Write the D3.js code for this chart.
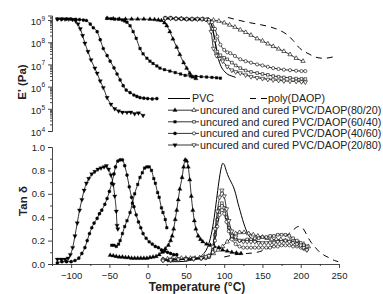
<!doctype html>
<html>
<head>
<meta charset="utf-8">
<script src="https://d3js.org/d3.v7.min.js"></script>
<style>
  body { margin: 0; background: #fff; }
  svg { font-family: "Liberation Sans", Arial, sans-serif; }
</style>
</head>
<body>
<svg id="svg1" width="383" height="294"></svg>
<script>
// ---- data: [temperature degC, value] ----
// storage modulus E' (Pa)
const eU8020 = [[-53,1.2e9],[-45,1.15e9],[-37,1.1e9],[-29,1.1e9],[-21,1.1e9],[-13,1.1e9],[-5,1.1e9],[3,1.08e9],[9,1.05e9],[14,1.0e9],[18,9.5e8],[22,7.5e8],[25,5.5e8],[29,3e8],[33,1.4e8],[38,6e7],[42,2.8e7],[47,1.2e7],[51,6.8e6],[55,4e6],[59,2.7e6],[63,2.3e6]];
const eU6040 = [[-53,1.2e9],[-48,1.15e9],[-43,1.1e9],[-38,1.1e9],[-33,1.0e9],[-30,9e8],[-27,7.9e8],[-23,5.5e8],[-19,3e8],[-15,1.5e8],[-10,5.2e7],[-6,3e7],[-1,1.9e7],[3,1.4e7],[7,1.1e7],[12,8.5e6],[16,6.8e6],[22,5.8e6],[29,5.0e6],[36,4.3e6],[43,3.7e6],[49,3.2e6],[56,3.0e6],[63,2.9e6],[70,2.8e6],[77,2.7e6],[84,2.6e6],[90,2.5e6],[95,2.4e6]];
const eU4060 = [[-118,1.1e9],[-112,1.1e9],[-106,1.1e9],[-100,1.1e9],[-94,1.08e9],[-89,1.05e9],[-84,1.0e9],[-80,9.5e8],[-75,6.6e8],[-71,4.5e8],[-66,3e8],[-62,1.3e8],[-58,5.2e7],[-53,2.5e7],[-49,1.4e7],[-44,7e6],[-40,3.7e6],[-36,2e6],[-32,1.1e6],[-28,7e5],[-23,5.4e5],[-18,4.2e5],[-14,3.6e5],[-10,3.2e5],[-5,3e5],[0,2.9e5],[6,2.8e5],[12,2.9e5]];
const eU2080 = [[-118,1.1e9],[-113,1.1e9],[-108,1.1e9],[-103,1.1e9],[-98,1.05e9],[-94,9e8],[-91,6.6e8],[-88,4e8],[-85,2e8],[-82,9e7],[-78,3.8e7],[-74,1.6e7],[-69,6.8e6],[-66,4e6],[-62,1.8e6],[-58,9e5],[-53,3.2e5],[-48,1.6e5],[-43,1.0e5],[-38,8e4],[-33,7e4],[-27,6.9e4],[-22,7e4],[-17,6e4],[-12,6.5e4],[-6,5e4]];
const eC8020 = [[23,1.2e9],[30,1.2e9],[37,1.15e9],[44,1.15e9],[51,1.1e9],[58,1.1e9],[65,1.1e9],[72,1.1e9],[79,1.05e9],[86,1.0e9],[93,9e8],[100,7.5e8],[107,6e8],[114,4.8e8],[121,3.6e8],[128,2.8e8],[135,2.1e8],[143,1.45e8],[150,1.15e8],[157,8.5e7],[164,6.5e7],[171,5e7],[178,3.9e7],[186,2.8e7],[194,1.9e7],[203,1.4e7]];
const eC6040 = [[23,1.2e9],[30,1.2e9],[37,1.15e9],[44,1.15e9],[51,1.1e9],[58,1.1e9],[65,1.1e9],[72,1.1e9],[78,1.05e9],[82,8e8],[85,4e8],[88,1.2e8],[91,3.8e7],[95,2.6e7],[100,2.0e7],[104,1.7e7],[110,1.2e7],[115,9e6],[121,6.8e6],[128,5.3e6],[135,4.6e6],[143,4.1e6],[150,3.7e6],[157,3.4e6],[164,3.0e6],[171,2.8e6],[178,2.6e6],[186,2.5e6],[194,2.3e6],[201,2.25e6],[206,2.2e6]];
const eC4060 = [[23,1.2e9],[30,1.2e9],[37,1.15e9],[44,1.15e9],[51,1.1e9],[58,1.1e9],[65,1.1e9],[72,1.1e9],[77,1.05e9],[80,1.0e9],[84,8e8],[88,4e8],[91,1.8e8],[95,7.8e7],[100,4.5e7],[104,3.5e7],[108,3.2e7],[114,2.4e7],[121,1.7e7],[128,1.4e7],[135,1.2e7],[143,1.0e7],[150,9e6],[157,7.8e6],[164,6.8e6],[171,6.2e6],[178,5.8e6],[186,5.5e6],[194,5.2e6],[201,5.0e6],[206,5.0e6]];
const eC2080 = [[23,1.2e9],[30,1.2e9],[37,1.15e9],[44,1.15e9],[51,1.1e9],[58,1.1e9],[65,1.1e9],[71,1.1e9],[76,1.05e9],[80,8e8],[83,3e8],[86,5.2e7],[90,2.5e7],[94,1.8e7],[98,1.4e7],[104,8e6],[110,5.5e6],[115,4.6e6],[121,4.1e6],[128,3.3e6],[135,2.8e6],[143,2.5e6],[150,2.3e6],[157,2.1e6],[164,2.0e6],[171,1.9e6],[178,1.8e6],[186,1.75e6],[194,1.7e6],[201,1.65e6],[206,1.6e6]];
const ePVC = [[23,1.2e9],[50,1.15e9],[75,1.1e9],[81,9e8],[85,4e8],[88,1e8],[92,2e7],[96,8e6],[100,5e6],[105,3.5e6],[110,3e6],[115,2.6e6]];
const eDAOP = [[105,1.3e9],[118,1.0e9],[130,8e8],[143,6.6e8],[160,4.9e8],[172,3.5e8],[182,2.2e8],[190,1.2e8],[199,5.2e7],[206,3.6e7],[212,2.8e7],[220,2.1e7],[229,1.9e7],[237,2.0e7],[245,2.3e7]];

// loss factor tan delta
const tU8020 = [[-49,0.075],[-45,0.07],[-41,0.065],[-37,0.06],[-33,0.06],[-29,0.055],[-25,0.055],[-21,0.05],[-17,0.05],[-13,0.05],[-9,0.05],[-5,0.05],[-1,0.05],[3,0.055],[7,0.06],[11,0.065],[15,0.08],[19,0.1],[23,0.13],[27,0.16],[30,0.2],[32,0.24],[34,0.3],[36,0.38],[38,0.46],[40,0.55],[42,0.64],[45,0.74],[47,0.83],[49,0.89],[51,0.88],[53,0.83],[55,0.72],[57,0.58],[59,0.46],[61,0.37],[63,0.3],[66,0.24],[69,0.21],[72,0.19],[77,0.17],[82,0.16],[87,0.15],[93,0.14],[98,0.12],[104,0.11],[110,0.1],[116,0.095],[122,0.09]];
const tU6040 = [[-47,0.16],[-44,0.16],[-41,0.15],[-38,0.17],[-36,0.2],[-33,0.26],[-30,0.32],[-27,0.37],[-23,0.44],[-20,0.52],[-17,0.6],[-13,0.68],[-10,0.74],[-7,0.78],[-4,0.82],[-1,0.83],[2,0.83],[5,0.8],[8,0.73],[10,0.69],[13,0.61],[15,0.57],[18,0.48],[20,0.44],[23,0.38],[25,0.31]];
const tU4060 = [[-118,0.01],[-112,0.02],[-106,0.02],[-100,0.02],[-95,0.03],[-90,0.05],[-86,0.09],[-82,0.14],[-79,0.2],[-76,0.26],[-73,0.31],[-70,0.35],[-66,0.39],[-63,0.43],[-60,0.46],[-56,0.51],[-53,0.56],[-50,0.62],[-47,0.69],[-44,0.77],[-42,0.83],[-39,0.88],[-36,0.89],[-33,0.89],[-30,0.84],[-27,0.76],[-24,0.66],[-21,0.57],[-18,0.49],[-15,0.42],[-12,0.36],[-9,0.31],[-6,0.26],[-2,0.22],[2,0.19],[6,0.17],[10,0.15],[14,0.14],[18,0.12],[22,0.11],[26,0.1],[30,0.09],[34,0.08],[38,0.08]];
const tU2080 = [[-118,0.04],[-113,0.04],[-108,0.04],[-104,0.05],[-101,0.08],[-98,0.14],[-95,0.24],[-92,0.35],[-89,0.46],[-86,0.55],[-83,0.63],[-80,0.69],[-77,0.73],[-73,0.77],[-69,0.79],[-65,0.81],[-61,0.82],[-57,0.83],[-54,0.84],[-51,0.81],[-48,0.76],[-45,0.68],[-43,0.58],[-41,0.45],[-40,0.33],[-39,0.3]];
const tC8020 = [[20,0.04],[26,0.045],[32,0.045],[38,0.05],[44,0.05],[50,0.05],[56,0.05],[62,0.05],[68,0.055],[74,0.06],[80,0.07],[86,0.09],[92,0.12],[98,0.15],[104,0.19],[110,0.23],[115,0.26],[120,0.27],[126,0.27],[132,0.26],[138,0.25],[144,0.24],[150,0.23],[156,0.22],[162,0.21],[168,0.21],[174,0.21],[180,0.2],[186,0.2],[192,0.19],[198,0.18],[204,0.17],[210,0.15]];
const tC6040 = [[20,0.04],[30,0.04],[40,0.04],[50,0.045],[60,0.05],[70,0.05],[76,0.055],[80,0.06],[85,0.12],[88,0.25],[91,0.38],[94,0.48],[97,0.52],[100,0.48],[103,0.4],[106,0.31],[110,0.24],[115,0.21],[120,0.2],[125,0.2],[130,0.21],[135,0.21],[140,0.22],[145,0.22],[150,0.23],[155,0.23],[160,0.24],[165,0.24],[170,0.25],[175,0.25],[180,0.25],[185,0.24],[190,0.22],[195,0.2],[200,0.18],[204,0.16],[208,0.15]];
const tC4060 = [[20,0.03],[30,0.03],[40,0.035],[50,0.04],[60,0.04],[70,0.045],[76,0.05],[80,0.06],[85,0.1],[88,0.2],[91,0.32],[94,0.42],[97,0.46],[100,0.43],[103,0.36],[106,0.28],[110,0.21],[115,0.17],[120,0.15],[125,0.14],[130,0.14],[135,0.14],[140,0.14],[145,0.14],[150,0.14],[155,0.14],[160,0.14],[165,0.15],[170,0.15],[175,0.16],[180,0.16],[185,0.16],[190,0.15],[195,0.15],[200,0.14],[204,0.13],[208,0.12]];
const tC2080 = [[20,0.03],[30,0.035],[40,0.04],[50,0.04],[60,0.045],[70,0.05],[76,0.06],[80,0.07],[85,0.15],[88,0.3],[91,0.45],[94,0.57],[97,0.63],[100,0.58],[103,0.47],[106,0.37],[110,0.28],[115,0.23],[120,0.2],[125,0.19],[130,0.19],[135,0.19],[140,0.19],[145,0.18],[150,0.18],[155,0.18],[160,0.18],[165,0.18],[170,0.19],[175,0.19],[180,0.2],[185,0.19],[190,0.18],[195,0.17],[200,0.16],[204,0.14],[208,0.12]];
const tPVC = [[25,0.02],[40,0.02],[55,0.03],[65,0.05],[72,0.08],[78,0.14],[83,0.25],[87,0.4],[90,0.55],[93,0.7],[96,0.82],[98,0.86],[100,0.85],[103,0.79],[106,0.74],[109,0.7],[112,0.66],[115,0.6],[118,0.52],[121,0.45],[124,0.38],[127,0.32],[130,0.27],[135,0.22],[140,0.2],[145,0.19],[150,0.18]];
const tDAOP = [[100,0.06],[115,0.08],[130,0.09],[143,0.1],[156,0.13],[165,0.16],[175,0.21],[183,0.25],[190,0.29],[197,0.32],[202,0.31],[207,0.26],[212,0.2],[218,0.15],[225,0.1],[232,0.07],[238,0.05],[244,0.03],[249,0.02]];

const xTicks = [-100, -50, 0, 50, 100, 150, 200, 250];
const eTicks = [1e4, 1e5, 1e6, 1e7, 1e8, 1e9];
const tanTicks = [0.0, 0.2, 0.4, 0.6, 0.8, 1.0];
const legendLabels = ["uncured and cured PVC/DAOP(80/20)", "uncured and cured PVC/DAOP(60/40)",
                      "uncured and cured PVC/DAOP(40/60)", "uncured and cured PVC/DAOP(20/80)"];

const svg = d3.select("#svg1");

let xScale = d3.scaleLinear().domain([-125, 250]).range([52, 339]);
let yTop = d3.scaleLog().domain([1e4, 1.6e9]).range([131, 15.5]);
let yBot = d3.scaleLinear().domain([0, 1]).range([264, 147]);

// symbols: 0 up triangle, 1 square, 2 circle, 3 down triangle
const shapes = [d3.symbolTriangle, d3.symbolSquare, d3.symbolCircle, d3.symbolTriangle];
const sizes = [8, 7, 8, 8];
function marker(g, x, y, k, open) {
    g.append("path")
        .attr("d", d3.symbol().type(shapes[k]).size(sizes[k])())
        .attr("transform", "translate(" + x + "," + y + ")" + (k == 3 ? " rotate(180)" : ""))
        .attr("fill", open ? "#fff" : "#000")
        .attr("stroke", "#000")
        .attr("stroke-width", open ? 0.6 : 0.3);
}

function drawSeries(data, yScale, k, open, dash) {
    let g = svg.append("g");
    let line = d3.line().x(d => xScale(d[0])).y(d => yScale(d[1])).curve(d3.curveMonotoneX);
    g.append("path").attr("d", line(data))
        .attr("fill", "none").attr("stroke", "#000")
        .attr("stroke-width", k == null ? 1 : 0.8)
        .attr("stroke-dasharray", dash ? "6,5" : null);
    if (k != null) data.forEach(d => marker(g, xScale(d[0]), yScale(d[1]), k, open));
}

// ---- top panel ----
let ax = svg.append("g").attr("transform", "translate(52,0)")
    .call(d3.axisLeft(yTop).tickValues(eTicks).tickSize(4).tickFormat(d => "10"));
ax.selectAll(".tick text").attr("font-size", 9.5).attr("fill", "#222").attr("dy", "0.5em")
    .each(function(d) {
        d3.select(this).append("tspan").attr("dy", "-0.7em").attr("font-size", 6.5)
            .text(Math.round(Math.log10(d)));
    });
let minorE = [];
eTicks.slice(0, -1).forEach(t => { for (let m = 2; m < 10; m++) minorE.push(t * m); });
minorE.push(1.2e9, 1.4e9);
svg.append("g").attr("transform", "translate(52,0)")
    .call(d3.axisLeft(yTop).tickValues(minorE).tickSize(2).tickFormat(""))
    .call(g => g.select(".domain").remove());

// ---- bottom panel ----
let ay = svg.append("g").attr("transform", "translate(52,0)")
    .call(d3.axisLeft(yBot).tickValues(tanTicks).tickSize(4).tickFormat(d3.format(".1f")));
ay.selectAll(".tick text").attr("font-size", 9.5).attr("fill", "#222");
svg.append("g").attr("transform", "translate(52,0)")
    .call(d3.axisLeft(yBot).tickValues([0.1, 0.3, 0.5, 0.7, 0.9]).tickSize(2).tickFormat(""))
    .call(g => g.select(".domain").remove());

let axx = svg.append("g").attr("transform", "translate(0,264)")
    .call(d3.axisBottom(xScale).tickValues(xTicks).tickSize(4).tickSizeOuter(0));
axx.selectAll(".tick text").attr("font-size", 9.5).attr("fill", "#222").attr("dy", "0.85em");
svg.append("g").attr("transform", "translate(0,264)")
    .call(d3.axisBottom(xScale).tickValues([-125, -75, -25, 25, 75, 125, 175, 225]).tickSize(2).tickFormat(""))
    .call(g => g.select(".domain").remove());

svg.selectAll(".domain, .tick line").attr("stroke", "#333").attr("stroke-width", 0.9);

// curves
const eSets = [[eU8020, eC8020], [eU6040, eC6040], [eU4060, eC4060], [eU2080, eC2080]];
const tSets = [[tU8020, tC8020], [tU6040, tC6040], [tU4060, tC4060], [tU2080, tC2080]];
drawSeries(ePVC, yTop, null, false, false);
drawSeries(eDAOP, yTop, null, false, true);
drawSeries(tPVC, yBot, null, false, false);
drawSeries(tDAOP, yBot, null, false, true);
eSets.forEach((s, k) => { drawSeries(s[1], yTop, k, true, false); drawSeries(s[0], yTop, k, false, false); });
tSets.forEach((s, k) => { drawSeries(s[1], yBot, k, true, false); drawSeries(s[0], yBot, k, false, false); });

// axis titles
svg.append("text").attr("transform", "translate(26,82) rotate(-90)").attr("text-anchor", "middle")
    .attr("font-size", 11.5).attr("font-weight", "bold").attr("fill", "#222").text("E' (Pa)");
svg.append("text").attr("transform", "translate(27,201) rotate(-90)").attr("text-anchor", "middle")
    .attr("font-size", 11.5).attr("font-weight", "bold").attr("fill", "#222").text("Tan δ");
svg.append("text").attr("x", 197).attr("y", 291).attr("text-anchor", "middle")
    .attr("font-size", 12).attr("font-weight", "bold").attr("fill", "#222").text("Temperature (°C)");

// legend
let lg = svg.append("g").attr("font-size", 10.7).attr("fill", "#222");
lg.append("line").attr("x1", 168).attr("x2", 190).attr("y1", 98.5).attr("y2", 98.5).attr("stroke", "#000");
lg.append("text").attr("x", 192).attr("y", 102).text("PVC");
lg.append("line").attr("x1", 250).attr("x2", 267).attr("y1", 98.5).attr("y2", 98.5)
    .attr("stroke", "#000").attr("stroke-dasharray", "6,5");
lg.append("text").attr("x", 268).attr("y", 102).text("poly(DAOP)");
legendLabels.forEach((lab, k) => {
    let y = 110.2 + k * 11.6;
    lg.append("line").attr("x1", 168).attr("x2", 199).attr("y1", y).attr("y2", y).attr("stroke", "#000").attr("stroke-width", 0.8);
    marker(lg, 175, y, k, false);
    marker(lg, 194, y, k, true);
    lg.append("text").attr("x", 200).attr("y", y + 3.7).text(lab);
});
</script>
</body>
</html>
